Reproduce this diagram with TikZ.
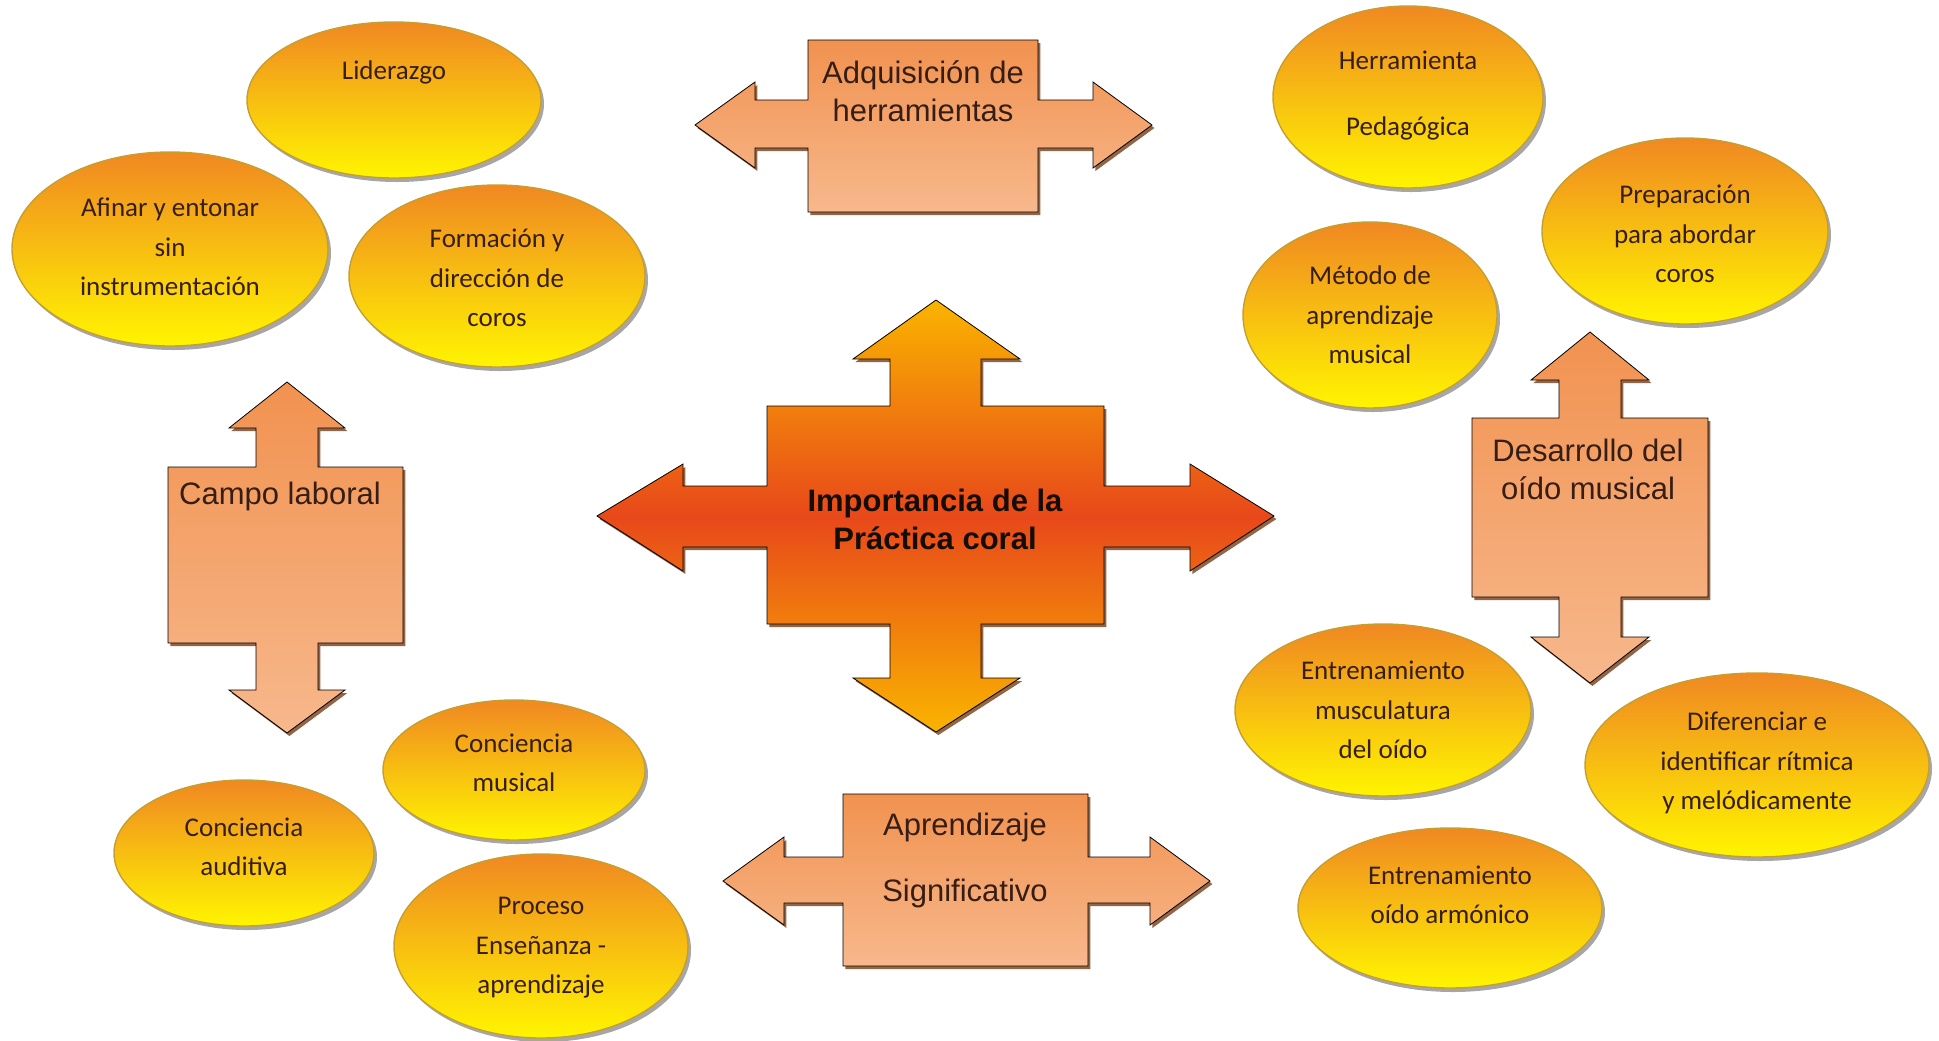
\documentclass[tikz,border=0pt]{standalone}
\usepackage{fontspec}
\setmainfont{Carlito}
\newfontfamily\arialfont{Liberation Sans}
\usetikzlibrary{shapes.geometric,shadows,calc}
\definecolor{O}{RGB}{240,136,34}
\definecolor{Y}{RGB}{255,245,0}
\definecolor{E}{RGB}{196,160,50}
\definecolor{P}{RGB}{241,146,80}
\definecolor{Q}{RGB}{247,184,140}
\definecolor{R}{RGB}{232,72,26}
\definecolor{S}{RGB}{250,180,0}
\definecolor{T}{RGB}{55,30,20}
\definecolor{D}{RGB}{120,62,25}
\tikzstyle{bubble} = [ellipse, draw=E, line width=0.7pt,
top color=O, bottom color=Y, inner sep=0pt,
drop shadow={shadow xshift=1.5pt, shadow yshift=-2pt, opacity=0.35, fill=black}]
\tikzstyle{btext} = [align=center, text=T, font=\fontsize{13.5}{19.75}\selectfont]
\tikzstyle{callout} = [top color=P, bottom color=Q,
drop shadow={shadow xshift=1.2pt, shadow yshift=-1.5pt, opacity=0.8, fill=D}]
\tikzstyle{ctext} = [align=center, text=T, font=\arialfont\fontsize{15.5}{19}\selectfont]

\begin{document}
\begin{tikzpicture}[x=0.5pt,y=-0.5pt]
\useasboundingbox (0,0) rectangle (1939,1040);
% center cross
\draw[callout, top color=S, bottom color=S, middle color=R]
  (767,406) -- (890,406) -- (890,359) -- (853,359) -- (936,300) -- (1020,359) -- (981,359) -- (981,406)
  -- (1104,406) -- (1104,486) -- (1190,486) -- (1190,464) -- (1274,516) -- (1190,571) -- (1190,547) -- (1104,547)
  -- (1104,624) -- (981,624) -- (981,678) -- (1020,678) -- (936,732) -- (853,678) -- (890,678) -- (890,624)
  -- (767,624) -- (767,547) -- (683,547) -- (683,571) -- (597,516) -- (683,464) -- (683,486) -- (767,486) -- cycle;
\node[ctext, font=\arialfont\bfseries\fontsize{15.5}{19}\selectfont, text=black!90!brown] (imp) at (935,519) {Importancia de la\\Práctica coral};
% top
\draw[callout] (808,40) -- (1038,40) -- (1038,100) -- (1093,100) -- (1093,82) -- (1152,125) -- (1093,168)
  -- (1093,148) -- (1038,148) -- (1038,212) -- (808,212) -- (808,148) -- (755,148) -- (755,168) -- (695,125)
  -- (755,82) -- (755,100) -- (808,100) -- cycle;
\node[ctext] (adq) at (923,91) {Adquisición de\\herramientas};
% bottom
\draw[callout] (843,794) -- (1088,794) -- (1088,857) -- (1150,857) -- (1150,837) -- (1210,881) -- (1150,925)
  -- (1150,903) -- (1088,903) -- (1088,966) -- (843,966) -- (843,903) -- (784,903) -- (784,925) -- (723,881)
  -- (784,837) -- (784,857) -- (843,857) -- cycle;
\node[ctext, font=\arialfont\fontsize{15.5}{33}\selectfont] (apr) at (965,860) {Aprendizaje\\Significativo};
% left
\draw[callout] (168,467) -- (256,467) -- (256,428) -- (229,428) -- (287,382) -- (345,428) -- (318,428) -- (318,467)
  -- (403,467) -- (403,643) -- (318,643) -- (318,690) -- (345,690) -- (287,733) -- (229,690) -- (256,690)
  -- (256,643) -- (168,643) -- cycle;
\node[ctext] (camp) at (280,496) {Campo laboral};
% right
\draw[callout] (1472,418) -- (1559,418) -- (1559,380) -- (1531,380) -- (1590,332) -- (1649,380) -- (1621,380)
  -- (1621,418) -- (1708,418) -- (1708,597) -- (1621,597) -- (1621,637) -- (1649,637) -- (1590,683) -- (1531,637)
  -- (1559,637) -- (1559,597) -- (1472,597) -- cycle;
\node[ctext] (des) at (1588,469) {Desarrollo del\\oído musical};
% ellipses
\foreach \N/\X/\Y/\A/\B/\Z/\T in {
  lid/394/100/294/156/-28/{Liderazgo},
  afi/170/249/316/194/-2/{Afinar y entonar\\sin\\instrumentación},
  for/497/276/296/182/2/{Formación y\\dirección de\\coros},
  her/1408/97/270/182/-1/{Herramienta\\[13.25pt]Pedagógica},
  pre/1685/231/286/186/3/{Preparación\\para abordar\\coros},
  met/1370/315/254/186/0/{Método de\\aprendizaje\\musical},
  ent/1383/710/296/172/0/{Entrenamiento\\musculatura\\del oído},
  dif/1757/765/344/184/-2/{Diferenciar e\\identificar rítmica\\y melódicamente},
  arm/1450/908/304/160/-13/{Entrenamiento\\oído armónico},
  mus/514/770/262/140/-7/{Conciencia\\musical},
  aud/244/853/260/146/-6/{Conciencia\\auditiva},
  pro/541/946/294/184/2/{Proceso\\Enseñanza -\\aprendizaje}}
  {\node[bubble, minimum width={\A*0.5pt}, minimum height={\B*0.5pt}] (\N) at (\X,\Y) {};
   \node[btext] (\N-t) at (\X,{\Y+\Z}) {\T};}
\end{tikzpicture}
\end{document}
